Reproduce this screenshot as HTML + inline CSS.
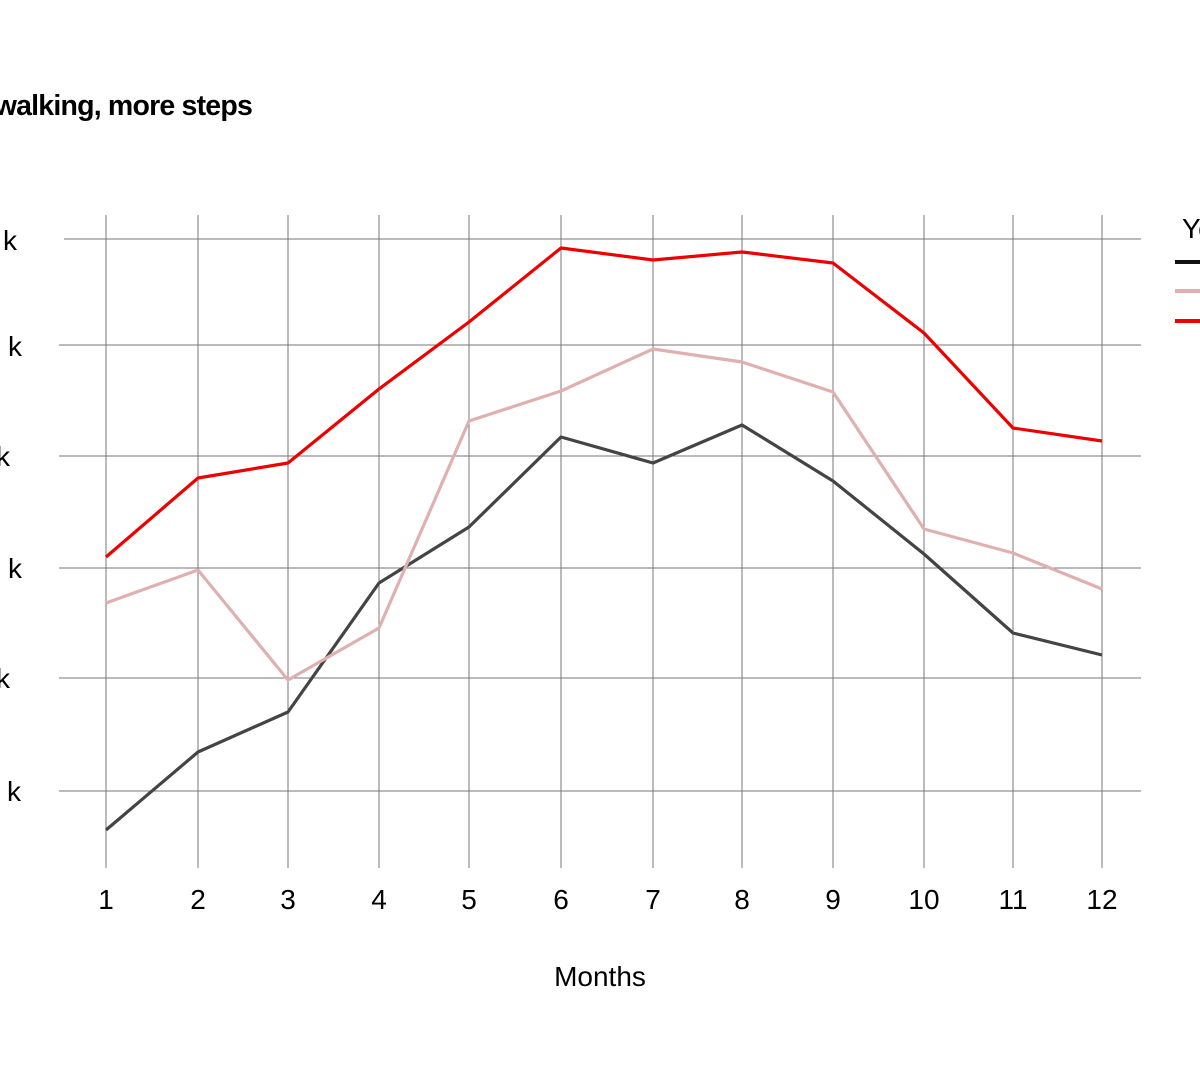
<!DOCTYPE html>
<html><head><meta charset="utf-8"><style>
html,body{margin:0;padding:0;background:#fff;width:1200px;height:1083px;overflow:hidden}
svg{display:block;font-family:"Liberation Sans",Arial,sans-serif}
</style></head><body>
<svg width="1200" height="1083" viewBox="0 0 1200 1083">
<text x="252" y="115" font-size="28.5" font-weight="bold" letter-spacing="-0.8" text-anchor="end" fill="#000">Less walking, more steps</text>
<g stroke="#777" stroke-width="1">
<line x1="64" y1="239" x2="1141" y2="239"/>
<line x1="59" y1="345" x2="1141" y2="345"/>
<line x1="59" y1="456" x2="1141" y2="456"/>
<line x1="59" y1="568" x2="1141" y2="568"/>
<line x1="59" y1="678" x2="1141" y2="678"/>
<line x1="59" y1="791" x2="1141" y2="791"/>
<line x1="106" y1="215" x2="106" y2="868"/>
<line x1="198" y1="215" x2="198" y2="868"/>
<line x1="288" y1="215" x2="288" y2="868"/>
<line x1="379" y1="215" x2="379" y2="868"/>
<line x1="469" y1="215" x2="469" y2="868"/>
<line x1="561" y1="215" x2="561" y2="868"/>
<line x1="653" y1="215" x2="653" y2="868"/>
<line x1="742" y1="215" x2="742" y2="868"/>
<line x1="833" y1="215" x2="833" y2="868"/>
<line x1="924" y1="215" x2="924" y2="868"/>
<line x1="1013" y1="215" x2="1013" y2="868"/>
<line x1="1102" y1="215" x2="1102" y2="868"/>
</g>
<g font-size="28" fill="#000" text-anchor="end">
<text x="17" y="250">12 k</text>
<text x="22" y="356">10.5 k</text>
<text x="10" y="466">9 k</text>
<text x="22" y="578">7.5 k</text>
<text x="10" y="688">6 k</text>
<text x="21" y="801">4.5 k</text>
</g>
<g font-size="28" fill="#000" text-anchor="middle">
<text x="106" y="909">1</text><text x="198" y="909">2</text><text x="288" y="909">3</text>
<text x="379" y="909">4</text><text x="469" y="909">5</text><text x="561" y="909">6</text>
<text x="653" y="909">7</text><text x="742" y="909">8</text><text x="833" y="909">9</text>
<text x="924" y="909">10</text><text x="1013" y="909">11</text><text x="1102" y="909">12</text>
<text x="600" y="986">Months</text>
</g>
<g fill="none" stroke-width="3.2" stroke-linejoin="round">
<polyline stroke="#444" points="106,830 198,752 288,712 379,583 469,527 561,437 653,463 742,425 833,481 924,554 1013,633 1102,655"/>
<polyline stroke="#e0b0b0" points="106,603 198,570 288,680 379,628 469,421 561,391 653,349 742,362 833,392 924,529 1013,553 1102,589"/>
<polyline stroke="#ee0000" points="106,557 198,478 288,463 379,389 469,322 561,248 653,260 742,252 833,263 924,333 1013,428 1102,441"/>
</g>
<text x="1182" y="238" font-size="28" fill="#000">Year</text>
<line x1="1175" y1="262" x2="1205" y2="262" stroke="#111" stroke-width="4"/>
<line x1="1175" y1="291" x2="1205" y2="291" stroke="#e0b0b0" stroke-width="4"/>
<line x1="1175" y1="321" x2="1205" y2="321" stroke="#ee0000" stroke-width="4"/>
</svg>
</body></html>
